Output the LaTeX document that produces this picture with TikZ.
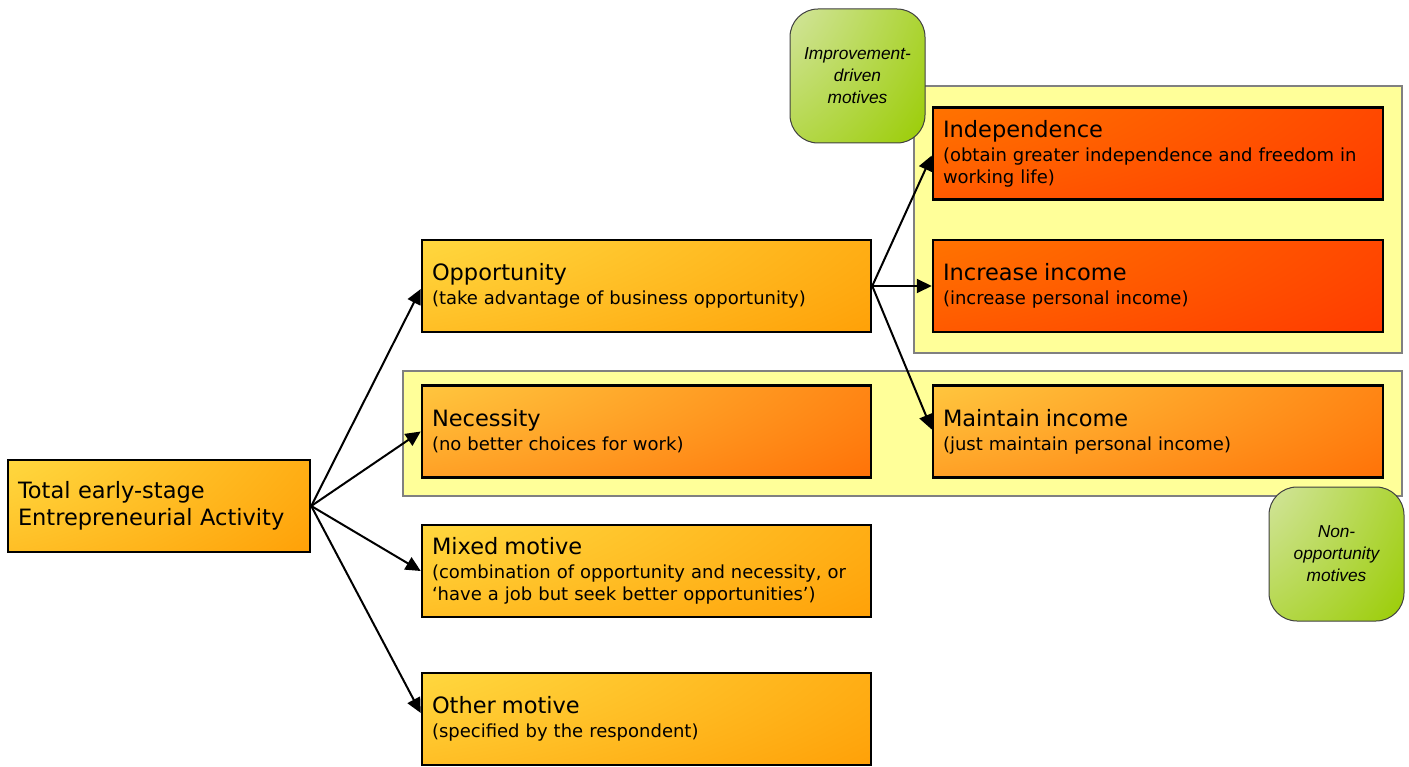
\documentclass[tikz,border=0pt]{standalone}
\usepackage{fontspec}
\setmainfont{DejaVu Sans}
\newfontfamily\greenlab{Liberation Sans}
\usetikzlibrary{arrows.meta}
\definecolor{panelfill}{HTML}{FFFF99}
\definecolor{panelline}{HTML}{808080}
% corner glow shading: colour runs from A (top-left corner) to A+D (distance >= scale)
% args: name, scale, rA, dR, gA, dG, bA, dB, vertical weight
\newcommand\declcornershade[9]{%
  \pgfdeclarefunctionalshading{#1}{\pgfpoint{-50bp}{-50bp}}{\pgfpoint{50bp}{50bp}}{}{%
    50 exch sub #9 mul dup mul exch 50 add dup mul add sqrt #2 div
    dup 1 gt {pop 1} if
    dup #4 mul #3 add exch
    dup #6 mul #5 add exch
    #8 mul #7 add }}
\declcornershade{shopp}{100}{1}{0}{0.95}{-0.35}{0.35}{-0.35}{0.7}
\declcornershade{shnec}{100}{1}{0}{0.94}{-0.54}{0.35}{-0.35}{0.7}
\declcornershade{shred}{100}{1}{0}{0.56}{-0.36}{0}{0}{0.7}
\declcornershade{shgreen}{100}{0.93}{-0.33}{0.94}{-0.14}{0.90}{-0.90}{0.85}
\newcommand\boxtitle[1]{{\fontsize{22.5}{26}\selectfont #1}\\[2pt]}
\tikzset{
  mbox/.style={draw=black, line width=2.5pt, rectangle, minimum height=92pt,
    inner xsep=10pt, inner ysep=0pt, align=left, text width=429pt,
    font=\fontsize{18}{22}\selectfont},
  rbox/.style={mbox, text width=430pt},
  panel/.style={draw=panelline, line width=1.2pt, fill=panelfill, rectangle, inner sep=0pt},
  gbox/.style={draw=black!75, line width=1pt, rectangle, rounded corners=28pt,
    shading=shgreen, minimum width=135pt, minimum height=134pt, inner sep=0pt,
    align=center, font=\greenlab\itshape\fontsize{17.3}{22}\selectfont},
  arr/.style={draw=black, line width=2pt, -{Triangle[length=15pt,width=14pt]}}
}
\begin{document}
\begin{tikzpicture}[x=1pt,y=-1pt]
\useasboundingbox (0,0) rectangle (1409,767);
% background panels
\node[panel, minimum width=488pt, minimum height=267pt] (p1) at (1158,219.5) {};
\node[panel, minimum width=999pt, minimum height=125pt] (p2) at (902.5,433.5) {};
% green labels
\node[gbox] (imp) at (857.5,76) {Improvement-\\driven\\motives};
\node[gbox] (non) at (1336.5,554) {Non-\\opportunity\\motives};
% boxes
\node[mbox, shading=shopp, text width=282pt, font=\fontsize{22.5}{27}\selectfont] (tea) at (159,506) {Total early-stage\\Entrepreneurial Activity};
\node[mbox, shading=shopp] (opp) at (646.5,286) {\boxtitle{Opportunity}(take advantage of business opportunity)};
\node[mbox, shading=shnec] (nec) at (646.5,431.5) {\boxtitle{Necessity}(no better choices for work)};
\node[mbox, shading=shopp] (mix) at (646.5,571) {\boxtitle{Mixed motive}(combination of opportunity and necessity, or\\‘have a job but seek better opportunities’)};
\node[mbox, shading=shopp] (oth) at (646.5,719) {\boxtitle{Other motive}(specified by the respondent)};
\node[rbox, shading=shred] (ind) at (1158,153.5) {\boxtitle{Independence}(obtain greater independence and freedom in\\working life)};
\node[rbox, shading=shred] (inc) at (1158,286) {\boxtitle{Increase income}(increase personal income)};
\node[rbox, shading=shnec] (mnt) at (1158,431.5) {\boxtitle{Maintain income}(just maintain personal income)};
% connectors
\draw[arr] (tea.east) -- ([yshift=-3pt]opp.west);
\draw[arr] (tea.east) -- (nec.west);
\draw[arr] (tea.east) -- (mix.west);
\draw[arr] (tea.east) -- ([yshift=6pt]oth.west);
\draw[arr] (opp.east) -- ([yshift=-2pt]ind.west);
\draw[arr] (opp.east) -- (inc.west);
\draw[arr] (opp.east) -- ([yshift=2pt]mnt.west);
\end{tikzpicture}
\end{document}
